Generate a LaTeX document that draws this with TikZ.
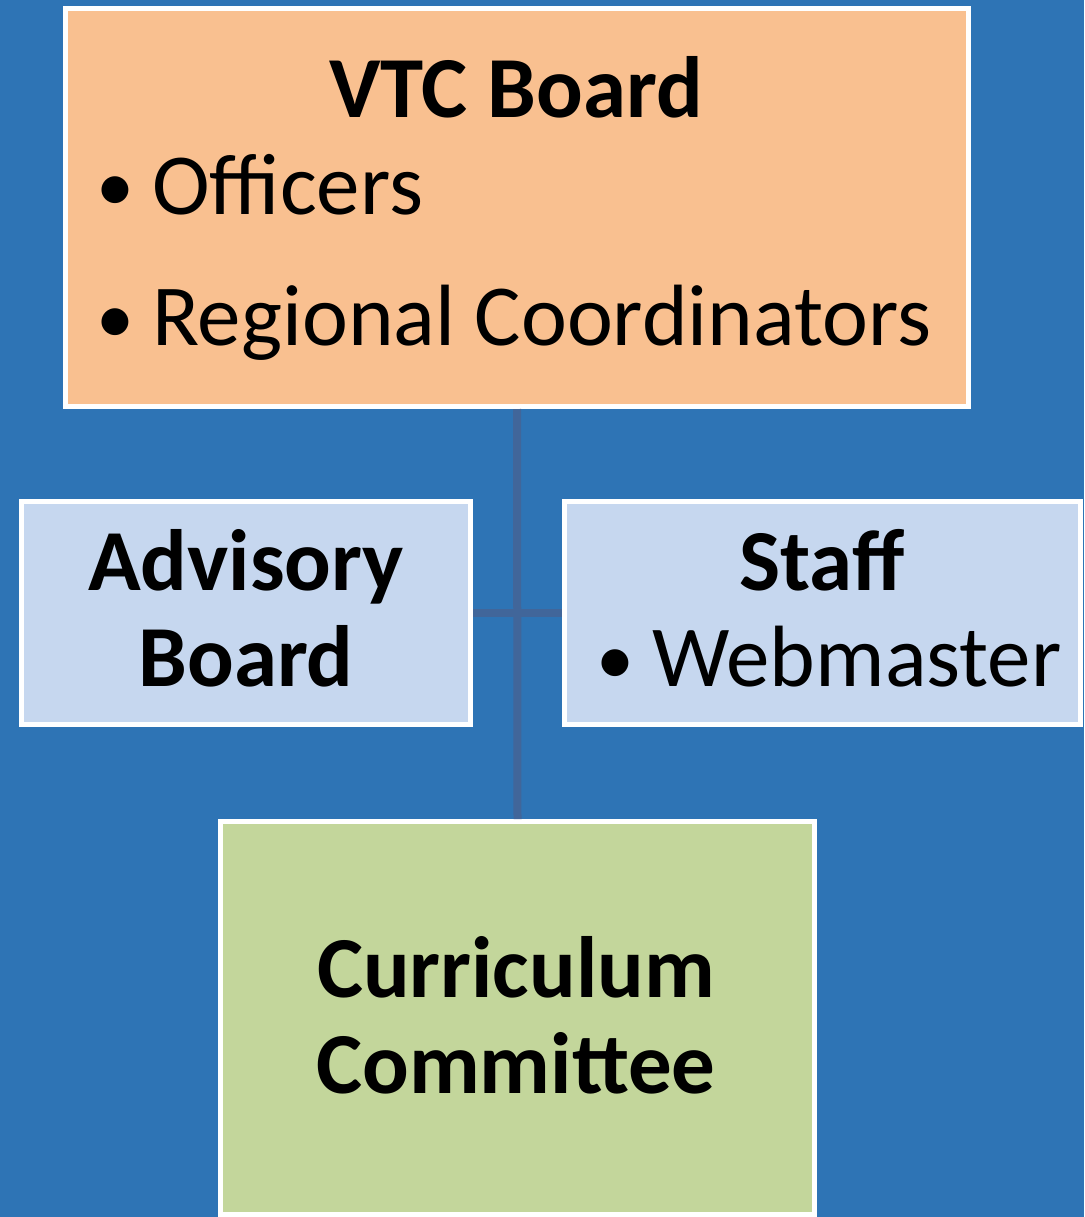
\documentclass[tikz,border=0pt]{standalone}
\usepackage{fontspec}
\setmainfont{Carlito}
\definecolor{bgblue}{HTML}{2E74B5}
\definecolor{linkc}{HTML}{41669A}
\definecolor{orangebox}{HTML}{F9C090}
\definecolor{bluebox}{HTML}{C6D7EF}
\definecolor{greenbox}{HTML}{C3D69B}
\newcommand{\mybul}{\makebox[56pt][l]{\fontsize{76}{76}\selectfont\raisebox{2pt}{\textbullet}}}
\begin{document}
\begin{tikzpicture}[x=1pt,y=-1pt,
  box/.style={draw=white,line width=5pt,inner sep=0pt,outer sep=0pt,rectangle},
  big/.style={inner sep=0pt,anchor=base,font=\fontsize{87}{100}\selectfont},
  bigb/.style={big,font=\fontsize{87}{100}\selectfont\bfseries},
  link/.style={draw=linkc,line width=8pt}]
\fill[bgblue] (0,0) rectangle (1084,1217);
\useasboundingbox (0,0) rectangle (1084,1217);
\node[box,fill=orangebox,minimum width=903pt,minimum height=398pt] (vtc) at (517,207.5) {};
\node[box,fill=bluebox,minimum width=449pt,minimum height=223pt] (adv) at (246,613) {};
\node[box,fill=bluebox,minimum width=516pt,minimum height=223pt] (staff) at (822.5,613) {};
\node[box,fill=greenbox,minimum width=594pt,minimum height=393pt] (cur) at (517.5,1018) {};
\draw[link,shorten <=2.5pt,shorten >=2.5pt] (vtc.south) -- (cur.north);
\draw[link,shorten <=2.5pt,shorten >=2.5pt] (adv.east) -- (staff.west);
\node[bigb] (t1) at (516,118) {VTC Board};
\node[big,anchor=base west] (t2) at (96,214) {\mybul Officers};
\node[big,anchor=base west] (t3) at (96,345) {\mybul Regional Coordinators};
\node[bigb] (t4) at (246,590) {Advisory};
\node[bigb] (t5) at (246,686) {Board};
\node[bigb] (t6) at (822,590) {Staff};
\node[big,anchor=base west] (t7) at (596,686) {\mybul Webmaster};
\node[bigb] (t8) at (516,997) {Curriculum};
\node[bigb] (t9) at (516,1093) {Committee};
\end{tikzpicture}
\end{document}
